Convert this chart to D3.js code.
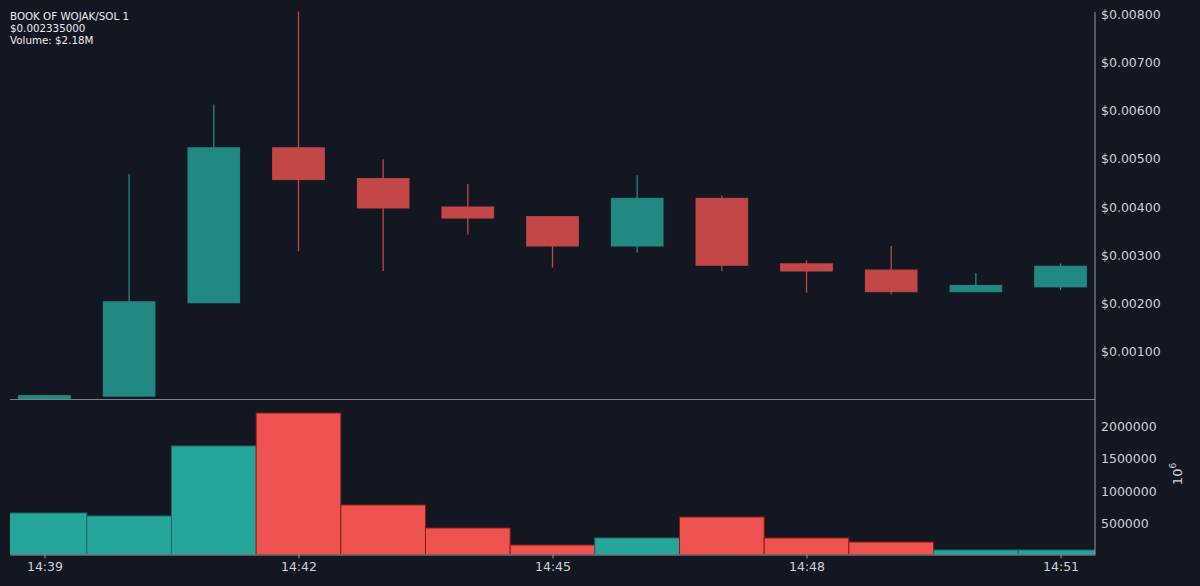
<!DOCTYPE html>
<html lang="en">
<head>
<meta charset="utf-8">
<title>BOOK OF WOJAK/SOL 1</title>
<script src="https://d3js.org/d3.v7.min.js"></script>
<style>
  html, body { margin: 0; padding: 0; background: #131722; }
  svg { display: block; }
  .axis text { font-family: "DejaVu Sans", sans-serif; font-size: 12.5px; fill: #cfd0d3; }
  .axis path, .axis line { stroke: #9598a1; }
  .title { font-family: "DejaVu Sans", sans-serif; font-size: 10.3px; fill: #ececec; }
</style>
</head>
<body>
<div id="chart"></div>
<script>
// candle data, one per minute
var times   = ["14:39","14:40","14:41","14:42","14:43","14:44","14:45","14:46","14:47","14:48","14:49","14:50","14:51"];
var opens   = [0.00001, 0.00007, 0.00201, 0.00523, 0.00459, 0.00400, 0.00380, 0.00319, 0.00418, 0.00282, 0.00269, 0.00224, 0.00234];
var closes  = [0.00008, 0.00203, 0.00523, 0.00457, 0.00398, 0.00377, 0.00319, 0.00418, 0.00279, 0.00267, 0.00224, 0.00237, 0.00277];
var highs   = [0.00009, 0.00468, 0.00613, 0.00806, 0.00499, 0.00448, 0.00380, 0.00466, 0.00424, 0.00289, 0.00319, 0.00263, 0.00283];
var lows    = [0.00001, 0.00007, 0.00201, 0.00308, 0.00267, 0.00343, 0.00274, 0.00305, 0.00267, 0.00222, 0.00218, 0.00224, 0.00227];
var volumes = [638000, 592000, 1669000, 2177000, 762000, 408000, 146000, 254000, 577000, 254000, 192000, 69000, 69000];

var priceTicks  = [0.001, 0.002, 0.003, 0.004, 0.005, 0.006, 0.007, 0.008];
var volumeTicks = [500000, 1000000, 1500000, 2000000];
var titleLines  = ["BOOK OF WOJAK/SOL 1", "$0.002335000", "Volume: $2.18M"];

var w = 1200, h = 586;
var left = 10, right = 1095;

var parseTime = d3.timeParse("%H:%M");
var data = times.map(function(t, i) {
    return { date: parseTime(t), open: opens[i], close: closes[i], high: highs[i], low: lows[i], volume: volumes[i] };
});

var svg = d3.select("#chart").append("svg").attr("width", w).attr("height", h);
svg.append("rect").attr("width", w).attr("height", h).attr("fill", "#131722");

// a little less than half a step of padding on each side
var pad = 0.407 * 60000;
var xScale = d3.scaleTime()
    .domain([new Date(data[0].date.getTime() - pad), new Date(data[data.length - 1].date.getTime() + pad)])
    .range([left, right]);
var step = xScale(data[1].date) - xScale(data[0].date);

var yPrice = d3.scaleLinear().domain([0, 0.008]).range([399.5, 14.5]);
var yVol = d3.scaleLinear().domain([0, 2000000]).range([554.5, 424.5]);

var up = "#26a69a", down = "#ef5350";

svg.append("clipPath").attr("id", "clip").append("rect")
    .attr("x", left).attr("y", 0).attr("width", right - left).attr("height", h);

// volume bars
svg.append("g").attr("clip-path", "url(#clip)").selectAll("rect").data(data).enter().append("rect")
    .attr("x", function(d) { return xScale(d.date) - step / 2; })
    .attr("width", step)
    .attr("y", function(d) { return yVol(d.volume); })
    .attr("height", function(d) { return yVol(0) - yVol(d.volume); })
    .attr("fill", function(d) { return d.close >= d.open ? up : down; })
    .attr("stroke", function(d) { return d.close >= d.open ? "#1a6e66" : "#8a1c1c"; })
    .attr("stroke-width", 1);

// candles
var candles = svg.append("g").attr("opacity", 0.8).selectAll("g").data(data).enter().append("g");
candles.append("line")
    .attr("x1", function(d) { return xScale(d.date); })
    .attr("x2", function(d) { return xScale(d.date); })
    .attr("y1", function(d) { return yPrice(d.high); })
    .attr("y2", function(d) { return yPrice(d.low); })
    .attr("stroke", function(d) { return d.close >= d.open ? up : down; })
    .attr("stroke-width", 1.3);
candles.append("rect")
    .attr("x", function(d) { return xScale(d.date) - step * 0.305; })
    .attr("width", step * 0.61)
    .attr("y", function(d) { return yPrice(Math.max(d.open, d.close)); })
    .attr("height", function(d) { return Math.max(1, Math.abs(yPrice(d.open) - yPrice(d.close))); })
    .attr("fill", function(d) { return d.close >= d.open ? up : down; })
    .attr("stroke", function(d) { return d.close >= d.open ? up : down; })
    .attr("stroke-width", 1);

// frame lines
svg.append("line").attr("x1", left).attr("x2", right).attr("y1", yPrice(0)).attr("y2", yPrice(0))
    .attr("stroke", "#7d808a").attr("stroke-width", 1.2);
svg.append("line").attr("x1", right).attr("x2", right).attr("y1", 12).attr("y2", yVol(0))
    .attr("stroke", "#9598a1").attr("stroke-width", 1);

// price axis
var priceAxis = d3.axisRight(yPrice).tickValues(priceTicks).tickSize(0).tickPadding(6)
    .tickFormat(function(d) { return "$" + d3.format(".5f")(d); });
svg.append("g").attr("class", "axis").attr("transform", "translate(" + right + ",0)").call(priceAxis)
    .call(function(g) { g.select(".domain").remove(); });

// volume axis
var volAxis = d3.axisRight(yVol).tickValues(volumeTicks).tickSize(0).tickPadding(6).tickFormat(d3.format("d"));
svg.append("g").attr("class", "axis").attr("transform", "translate(" + right + ",1.5)").call(volAxis)
    .call(function(g) { g.select(".domain").remove(); });

// 10^6 label
var expLabel = svg.append("text").attr("class", "title")
    .attr("transform", "translate(1182,474) rotate(-90)")
    .attr("text-anchor", "middle")
    .style("font-size", "13px").style("fill", "#cfd0d3");
expLabel.append("tspan").text("10");
expLabel.append("tspan").attr("dy", -6).style("font-size", "9px").text("6");

// time axis
var timeAxis = d3.axisBottom(xScale).ticks(d3.timeMinute.every(3)).tickSizeInner(4).tickSizeOuter(0).tickPadding(4)
    .tickFormat(d3.timeFormat("%H:%M"));
svg.append("g").attr("class", "axis").attr("transform", "translate(0," + yVol(0) + ")").call(timeAxis)
    .call(function(g) { g.select(".domain").attr("stroke", "#9598a1"); });

// header text
svg.append("g").selectAll("text").data(titleLines).enter().append("text")
    .attr("class", "title")
    .attr("x", 10)
    .attr("y", function(d, i) { return 20 + i * 12; })
    .text(function(d) { return d; });
</script>
</body>
</html>
